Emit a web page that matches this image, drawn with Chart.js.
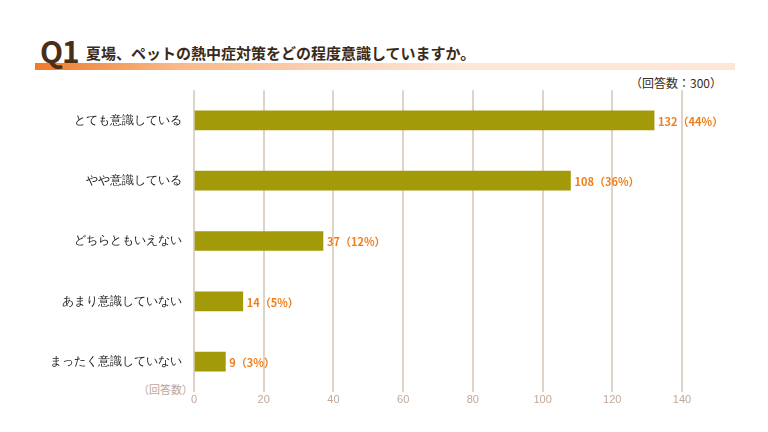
<!DOCTYPE html>
<html><head><meta charset="utf-8">
<script src="https://cdn.jsdelivr.net/npm/chart.js@4"></script>
<style>
body{margin:0;width:768px;height:432px;background:#fff;font-family:"Noto Sans CJK JP",sans-serif;position:relative;overflow:hidden}
#bar{position:absolute;left:35px;top:63px;width:700px;height:7px;background:linear-gradient(to right,#f07a28 0%,#f8b888 20%,#fde6d6 60%,#fde6d6 100%)}
#q{position:absolute;left:40px;top:30px;font-size:30px;font-weight:bold;color:#4a2e18;letter-spacing:-1px;line-height:40px}
#t{position:absolute;left:86px;top:41px;font-size:15px;font-weight:bold;color:#3a2a1a;line-height:24px}
#n{position:absolute;right:46px;top:74px;font-size:12px;color:#3a2a1a}
#u{position:absolute;left:138px;top:381px;font-size:11px;color:#c0a898}
#wrap{position:absolute;left:0;top:79px;width:768px;height:330px}
</style></head><body>
<div id="bar"></div><div id="q">Q1</div>
<div id="t">夏場、ペットの熱中症対策をどの程度意識していますか。</div>
<div id="n">（回答数：300）</div>
<div id="u">（回答数）</div>
<div id="wrap"><canvas id="c"></canvas></div>
<script>
const categories = ['とても意識している','やや意識している','どちらともいえない','あまり意識していない','まったく意識していない'];
const counts = [132, 108, 37, 14, 9];
const percents = ['44%','36%','12%','5%','3%'];

const valueLabels = {
    id: 'valueLabels',
    afterDatasetsDraw(chart) {
        const ctx = chart.ctx;
        const meta = chart.getDatasetMeta(0);
        ctx.save();
        ctx.fillStyle = '#f07f1a';
        ctx.font = 'bold 11px "Noto Sans CJK JP"';
        ctx.textBaseline = 'middle';
        meta.data.forEach((bar, i) => {
            ctx.fillText(counts[i] + '（' + percents[i] + '）', bar.x + 4, bar.y + 1);
        });
        ctx.restore();
    }
};

new Chart(document.getElementById('c'), {
    type: 'bar',
    data: {
        labels: categories,
        datasets: [{ data: counts, backgroundColor: '#a39a0a', barThickness: 19 }]
    },
    options: {
        indexAxis: 'y',
        responsive: true,
        maintainAspectRatio: false,
        animation: false,
        layout: { padding: { right: 86, top: 0, bottom: 0 } },
        plugins: { legend: { display: false }, tooltip: { enabled: false } },
        scales: {
            x: {
                min: 0, max: 140,
                ticks: { stepSize: 20, color: '#c0a898', font: { size: 11 }, padding: 2 },
                grid: { color: '#ddd3c8', lineWidth: 2, drawTicks: false },
                border: { display: false }
            },
            y: {
                afterFit(scale) { scale.width = 194; },
                ticks: { color: '#222', font: { size: 12 }, padding: 4 },
                grid: { display: false },
                border: { display: false }
            }
        }
    },
    plugins: [valueLabels]
});
</script>
</body></html>
